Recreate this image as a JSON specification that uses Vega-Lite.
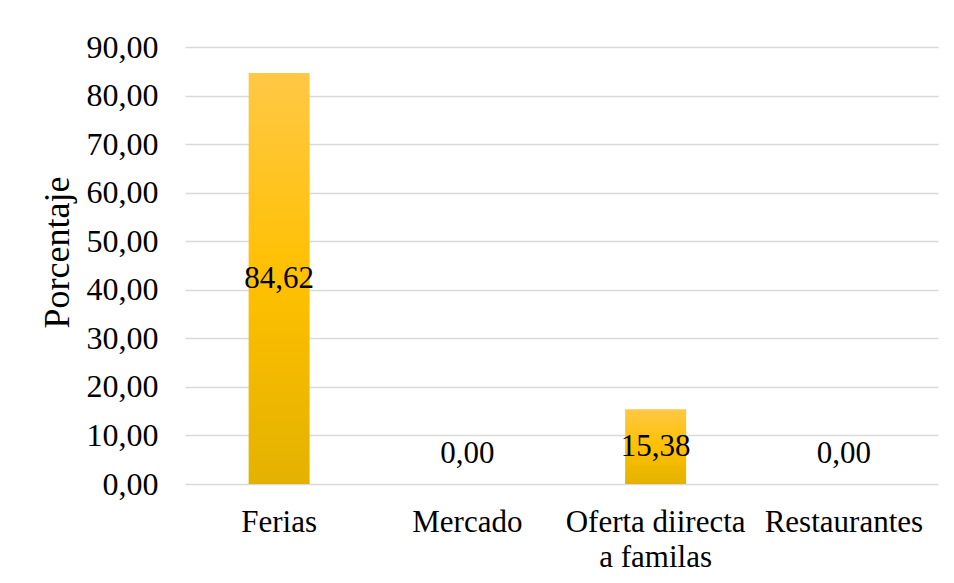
{
  "$schema": "https://vega.github.io/schema/vega-lite/v6.json",
  "autosize": "none",
  "width": 753,
  "height": 437,
  "padding": {"left": 185, "top": 47, "right": 16, "bottom": 99},
  "background": "white",
  "config": {
    "locale": {"number": {"decimal": ",", "thousands": ".", "grouping": [3], "currency": ["$", ""]}},
    "view": {"stroke": null},
    "font": "Liberation Serif"
  },
  "data": {
    "values": [
      {"categoria": "Ferias", "porcentaje": 84.62},
      {"categoria": "Mercado", "porcentaje": 0.0},
      {"categoria": "Oferta diirecta a familas", "porcentaje": 15.38},
      {"categoria": "Restaurantes", "porcentaje": 0.0}
    ]
  },
  "encoding": {
    "x": {
      "field": "categoria",
      "type": "nominal",
      "sort": null,
      "scale": {"paddingInner": 0.676, "paddingOuter": 0.338},
      "axis": {
        "title": null,
        "labelAngle": 0,
        "labelFont": "Liberation Serif",
        "labelFontSize": 31,
        "labelColor": "#000000",
        "labelPadding": 23,
        "labelLineHeight": 35,
        "labelExpr": "datum.value == 'Oferta diirecta a familas' ? ['Oferta diirecta', 'a familas'] : datum.value",
        "ticks": false,
        "domain": false,
        "grid": false
      }
    }
  },
  "layer": [
    {
      "mark": {
        "type": "bar",
        "fill": {
          "gradient": "linear",
          "x1": 0, "y1": 0, "x2": 0, "y2": 1,
          "stops": [
            {"offset": 0, "color": "#FFC846"},
            {"offset": 0.5, "color": "#FFC000"},
            {"offset": 1, "color": "#E3B200"}
          ]
        },
        "stroke": null
      },
      "encoding": {
        "y": {
          "field": "porcentaje",
          "type": "quantitative",
          "scale": {"domain": [0, 90]},
          "axis": {
            "title": "Porcentaje",
            "titleFont": "Liberation Serif",
            "titleFontSize": 36,
            "titleFontWeight": "normal",
            "titleColor": "#000000",
            "titleX": -109,
            "titleY": 205,
            "values": [0, 10, 20, 30, 40, 50, 60, 70, 80, 90],
            "format": ".2f",
            "labelFont": "Liberation Serif",
            "labelFontSize": 32,
            "labelColor": "#000000",
            "labelPadding": 27,
            "ticks": false,
            "domain": false,
            "gridColor": "#D9D9D9",
            "gridWidth": 1.5
          }
        }
      }
    },
    {
      "transform": [{"calculate": "max(datum.porcentaje / 2, 6.2)", "as": "pos"}],
      "mark": {"type": "text", "font": "Liberation Serif", "fontSize": 31, "color": "#000000", "baseline": "middle", "align": "center"},
      "encoding": {
        "y": {"field": "pos", "type": "quantitative", "scale": {"domain": [0, 90]}},
        "text": {"field": "porcentaje", "type": "quantitative", "format": ".2f"}
      }
    }
  ]
}
